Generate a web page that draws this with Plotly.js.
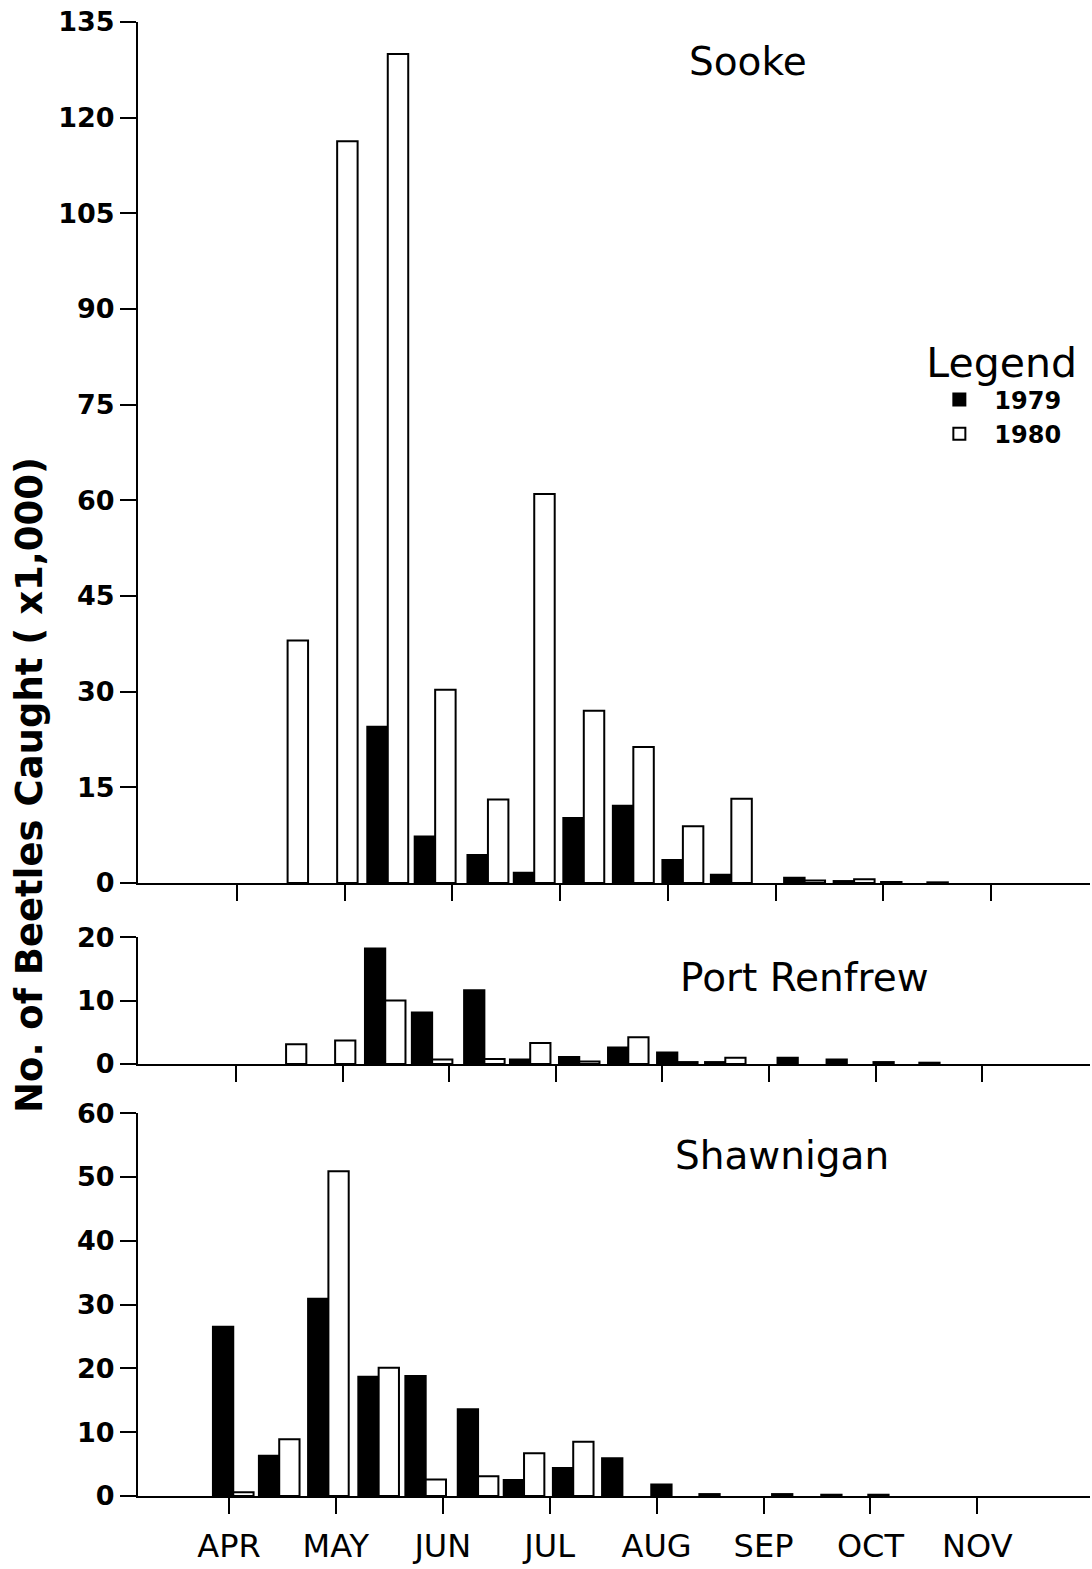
<!DOCTYPE html>
<html>
<head>
<meta charset="utf-8">
<script src="https://cdn.plot.ly/plotly-3.0.1.min.js"></script>
<style>
  html, body { margin: 0; padding: 0; background: #ffffff; }
  #chart { width: 1092px; height: 1569px; }
</style>
</head>
<body>
<div id="chart"></div>
<script>
// ---- Data (values in thousands of beetles) ----
const monthLabels = ['APR', 'MAY', 'JUN', 'JUL', 'AUG', 'SEP', 'OCT', 'NOV'];
const monthTicks = [0, 1, 2, 3, 4, 5, 6, 7];
// sampling dates, in months after 1 April
const sampleMonth = [0.04, 0.47, 0.93, 1.40, 1.84, 2.33, 2.76, 3.22, 3.68, 4.14, 4.59, 5.27, 5.73, 6.17, 6.60];

const sooke1979 = [null, null, null, 24.5, 7.3, 4.4, 1.6, 10.2, 12.1, 3.6, 1.3, 0.8, 0.3, 0.15, 0.1];
const sooke1980 = [null, 38, 116.3, 130, 30.3, 13.1, 61, 27, 21.3, 8.9, 13.2, 0.4, 0.6, null, null];

const renfrew1979 = [null, null, null, 18.2, 8.1, 11.6, 0.7, 1.1, 2.6, 1.8, 0.3, 1.0, 0.7, 0.3, 0.2];
const renfrew1980 = [null, 3.1, 3.7, 10.0, 0.7, 0.8, 3.3, 0.4, 4.2, 0.3, 1.0, null, null, null, null];

const shawnigan1979 = [26.5, 6.3, 30.9, 18.7, 18.8, 13.6, 2.5, 4.4, 5.9, 1.8, 0.3, 0.3, 0.2, 0.2, null];
const shawnigan1980 = [0.6, 8.9, 50.9, 20.1, 2.6, 3.1, 6.7, 8.5, null, null, null, null, null, null, null];

const siteNames = ['Sooke', 'Port Renfrew', 'Shawnigan'];
const yearNames = ['1979', '1980'];

// ---- Styling ----
const BW = 0.19;
const tickFont = { family: 'DejaVu Sans', size: 27, weight: 'bold', color: '#000' };

function barTrace(y, year, xa, ya, showLegend) {
  const is79 = year === yearNames[0];
  return {
    type: 'bar',
    x: sampleMonth,
    y: y,
    xaxis: xa,
    yaxis: ya,
    name: year,
    legendgroup: year,
    showlegend: showLegend,
    width: BW,
    offset: is79 ? -BW : 0,
    marker: {
      color: is79 ? '#000000' : '#ffffff',
      line: { color: '#000000', width: 2 }
    },
    hoverinfo: 'x+y+name'
  };
}

const data = [
  barTrace(sooke1979, yearNames[0], 'x', 'y', true),
  barTrace(sooke1980, yearNames[1], 'x', 'y', true),
  barTrace(renfrew1979, yearNames[0], 'x2', 'y2', false),
  barTrace(renfrew1980, yearNames[1], 'x2', 'y2', false),
  barTrace(shawnigan1979, yearNames[0], 'x3', 'y3', false),
  barTrace(shawnigan1980, yearNames[1], 'x3', 'y3', false)
];

function xAxis(anchor, range, showLabels) {
  return {
    anchor: anchor,
    range: range,
    tickmode: 'array',
    tickvals: monthTicks,
    ticktext: monthLabels,
    showticklabels: showLabels,
    ticks: 'outside',
    ticklen: 16,
    tickwidth: 2,
    tickcolor: '#000',
    ticklabelstandoff: 5,
    showline: true,
    linecolor: '#000',
    linewidth: 2,
    showgrid: false,
    zeroline: false,
    tickfont: { family: 'DejaVu Sans', size: 32, color: '#000' },
    fixedrange: true
  };
}

function yAxis(anchor, domain, range, dtick) {
  return {
    anchor: anchor,
    domain: domain,
    range: range,
    dtick: dtick,
    tick0: 0,
    ticks: 'outside',
    ticklen: 16,
    tickwidth: 2,
    tickcolor: '#000',
    showline: true,
    linecolor: '#000',
    linewidth: 2,
    showgrid: false,
    zeroline: false,
    tickfont: tickFont,
    fixedrange: true
  };
}

const panelFont = { family: 'DejaVu Sans', size: 39, color: '#000' };

const layout = {
  width: 1092,
  height: 1569,
  margin: { l: 138, r: 2, t: 22, b: 73 },
  paper_bgcolor: '#ffffff',
  plot_bgcolor: 'rgba(0,0,0,0)',
  barmode: 'overlay',
  showlegend: true,
  legend: {
    x: 0.826,
    y: 0.795,
    xanchor: 'left',
    yanchor: 'top',
    bgcolor: 'rgba(0,0,0,0)',
    font: { family: 'DejaVu Sans', size: 24, weight: 'bold', color: '#000' },
    title: { text: 'Legend', side: 'top', font: { family: 'DejaVu Sans', size: 41, weight: 'normal', color: '#000' } },
    traceorder: 'normal',
    itemwidth: 60,
    tracegroupgap: 6
  },
  xaxis: xAxis('y', [-0.919, 7.92], false),
  xaxis2: xAxis('y2', [-0.919, 8.011], false),
  xaxis3: xAxis('y3', [-0.851, 8.054], true),
  yaxis: yAxis('x', [0.4159, 1], [0, 135], 15),
  yaxis2: yAxis('x2', [0.2931, 0.3792], [0, 20], 10),
  yaxis3: yAxis('x3', [0, 0.2598], [0, 60], 10),
  annotations: [
    { text: siteNames[0], xref: 'paper', yref: 'paper', x: 0.641, y: 0.9729, xanchor: 'center', yanchor: 'middle', showarrow: false, font: panelFont },
    { text: siteNames[1], xref: 'paper', yref: 'paper', x: 0.7006, y: 0.3521, xanchor: 'center', yanchor: 'middle', showarrow: false, font: panelFont },
    { text: siteNames[2], xref: 'paper', yref: 'paper', x: 0.6765, y: 0.2313, xanchor: 'center', yanchor: 'middle', showarrow: false, font: panelFont },
    { text: 'No. of Beetles Caught ( x1,000)', xref: 'paper', yref: 'paper', x: -0.1134, y: 0.4824, xanchor: 'center', yanchor: 'middle', textangle: -90, showarrow: false,
      font: { family: 'DejaVu Sans', size: 37, weight: 'bold', color: '#000' } }
  ]
};

Plotly.newPlot('chart', data, layout, { displayModeBar: false, staticPlot: true });
</script>
</body>
</html>
